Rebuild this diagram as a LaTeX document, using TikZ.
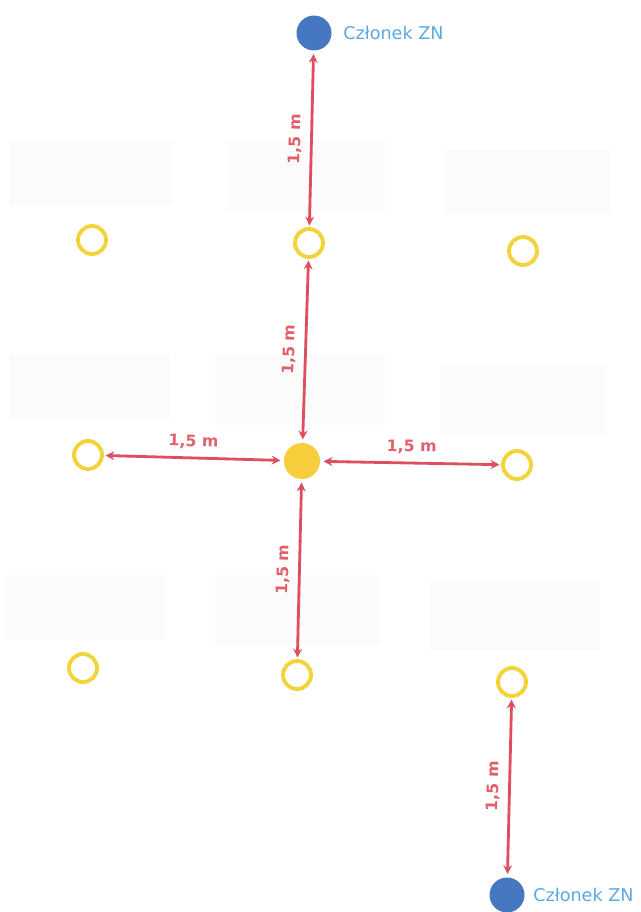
\documentclass[tikz,border=0pt]{standalone}
\usepackage{fontspec}
\setmainfont{DejaVu Sans}
\usetikzlibrary{positioning,arrows.meta}
\definecolor{ringyellow}{HTML}{F2D43A}
\definecolor{seatyellow}{HTML}{F7CD3C}
\definecolor{memberblue}{HTML}{4678C2}
\definecolor{labelblue}{HTML}{5CA8E4}
\definecolor{gapred}{HTML}{DE4E5C}
\tikzset{
  ring/.style={circle, draw=ringyellow, line width=2.2pt, minimum size=0.56cm, inner sep=0pt, outer sep=2pt},
  seat/.style={circle, fill=seatyellow, minimum size=0.72cm, inner sep=0pt, outer sep=2pt},
  member/.style={circle, fill=memberblue, minimum size=0.7cm, inner sep=0pt, outer sep=2pt},
  desk/.style={fill=black!1.5, draw=none},
  gap/.style={draw=gapred, line width=1.6pt, {Stealth[length=5pt,width=5pt]}-{Stealth[length=5pt,width=5pt]}},
  gaplabel/.style={text=gapred!90!white, font=\bfseries\fontsize{9}{11}\selectfont, midway, sloped, above=1pt},
  zname/.style={text=labelblue, font=\fontsize{10}{12}\selectfont, inner sep=0pt}
}
\begin{document}
\begin{tikzpicture}[x=0.02cm, y=-0.02cm]
\useasboundingbox (0,0) rectangle (640,912);
% faint desks
\foreach \xa/\ya/\xb/\yb in {10/140/172/205, 228/140/385/212, 445/150/610/215,
                             10/355/170/420, 215/355/385/425, 440/365/605/435,
                             5/575/165/640, 215/575/380/645, 430/580/600/650}
  \fill[desk] (\xa,\ya) rectangle (\xb,\yb);
% places
\foreach \n/\x/\y in {a1/92/240, a2/309/243, a3/523/251,
                      b1/88/455, b3/517/465,
                      c1/83/668, c2/297/675, c3/512/682}
  \node[ring] (\n) at (\x,\y) {};
\node[seat] (b2) at (302,461) {};
\node[member] (zTop) at (314,33) {};
\node[member] (zBot) at (507,895) {};
\node[zname, right=0.16cm of zTop] (zTopText) {Członek ZN};
\node[zname, right=0.1cm of zBot] (zBotText) {Członek ZN};
% distances
\draw[gap] (a2) -- node[gaplabel] {1,5 m} (zTop);
\draw[gap] (b2) -- node[gaplabel] {1,5 m} (a2);
\draw[gap] (b1) -- node[gaplabel] {1,5 m} (b2);
\draw[gap] (b2) -- node[gaplabel] {1,5 m} (b3);
\draw[gap] (c2) -- node[gaplabel] {1,5 m} (b2);
\draw[gap] (zBot) -- node[gaplabel] {1,5 m} (c3);
\end{tikzpicture}
\end{document}
